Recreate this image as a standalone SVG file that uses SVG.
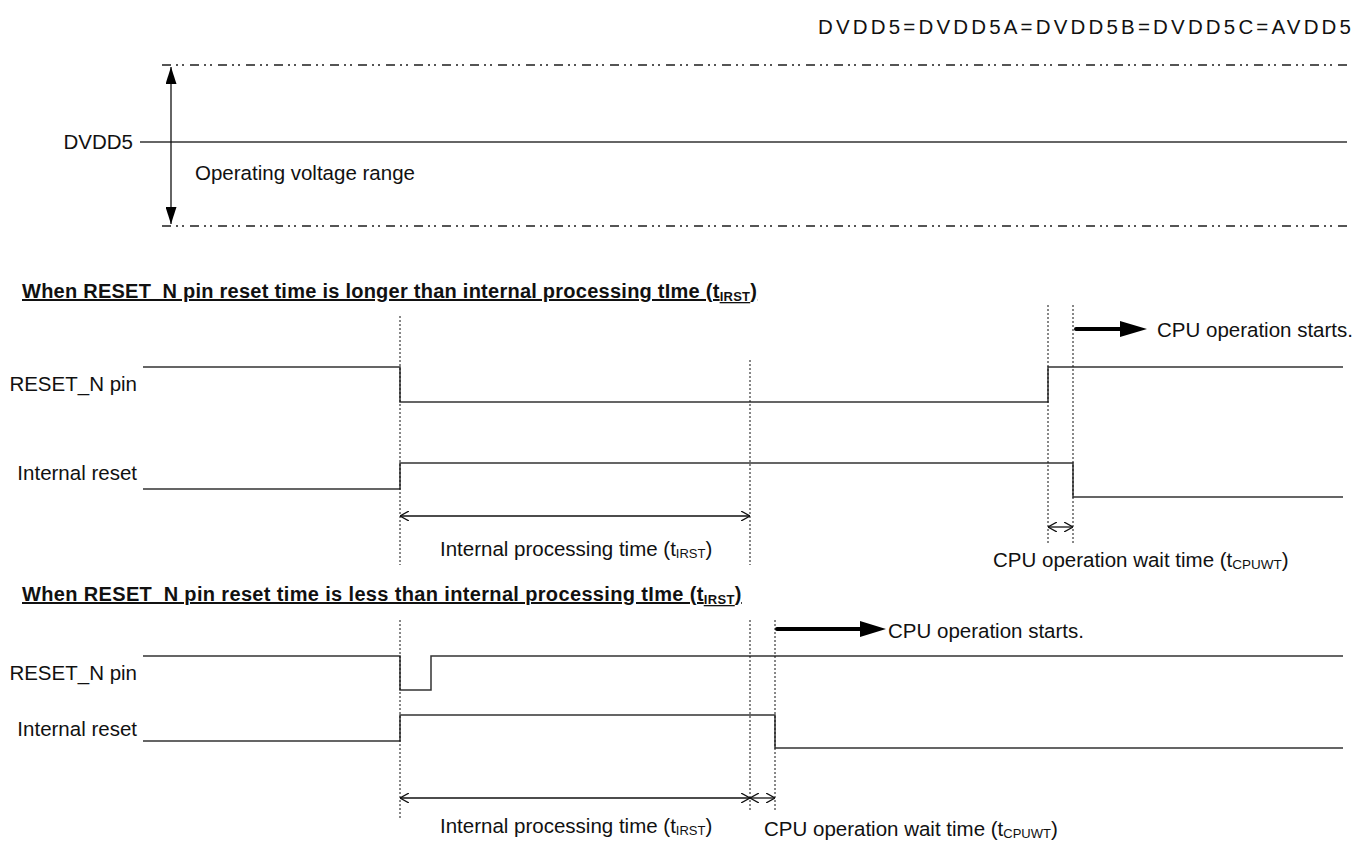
<svg xmlns="http://www.w3.org/2000/svg" width="1370" height="844" viewBox="0 0 1370 844">
<defs>
<style>
text{font-family:"Liberation Sans",Arial,sans-serif;font-size:20.5px;fill:#111}
.hdr{font-weight:bold;font-size:20px;letter-spacing:0.25px;text-decoration:underline}
.sig{fill:none;stroke:#333;stroke-width:1.5}
.dot{stroke:#111;stroke-width:1;stroke-dasharray:2 2;fill:none}
.dd{stroke:#555;stroke-width:2;stroke-dasharray:9 5 2 4 2 6;fill:none}
.dim{stroke:#111;stroke-width:1.3;fill:none}
.thick{stroke:#000;stroke-width:4;stroke-linecap:round}
</style>
<marker id="open" viewBox="0 0 9 10" refX="9" refY="5" markerWidth="9" markerHeight="10" markerUnits="userSpaceOnUse" orient="auto-start-reverse">
<path d="M0,0 L9,5 L0,10" fill="none" stroke="#111" stroke-width="1.3"/>
</marker>
<marker id="filled" viewBox="0 0 17 11" refX="17" refY="5.5" markerWidth="17" markerHeight="11" markerUnits="userSpaceOnUse" orient="auto-start-reverse">
<path d="M0,0 L17,5.5 L0,11 z" fill="#000"/>
</marker>
</defs>
<rect width="1370" height="844" fill="#fff"/>

<g id="title">
<text x="818" y="34" font-size="23" textLength="533" lengthAdjust="spacing">DVDD5=DVDD5A=DVDD5B=DVDD5C=AVDD5</text>
</g>

<g id="voltage-range">
<line class="dd" x1="162" y1="65" x2="1347" y2="65"/>
<line class="dd" x1="162" y1="226" x2="1347" y2="226"/>
<line class="sig" x1="140" y1="142" x2="1347" y2="142"/>
<text x="133" y="149" text-anchor="end">DVDD5</text>
<text x="195" y="180">Operating voltage range</text>
</g>

<g id="section1">
<text class="hdr" x="22" y="298">When RESET_N pin reset time is longer than internal processing tIme (t<tspan font-size="13" dy="3">IRST</tspan><tspan dy="-3">)</tspan></text>
<text x="137" y="391" text-anchor="end">RESET_N pin</text>
<text x="137" y="480" text-anchor="end">Internal reset</text>
<polyline id="s1-reset-pin" class="sig" points="143,367 400,367 400,402 1048,402 1048,367 1343,367"/>
<polyline id="s1-internal-reset" class="sig" points="143,489 400,489 400,463 1073,463 1073,497 1343,497"/>
<text x="440" y="556">Internal processing time (t<tspan font-size="13" dy="2">IRST</tspan><tspan dy="-2">)</tspan></text>
<text x="993" y="567">CPU operation wait time (t<tspan font-size="13.5" dy="2">CPUWT</tspan><tspan dy="-2">)</tspan></text>
<text x="1157" y="337">CPU operation starts.</text>
</g>

<g id="section2">
<text class="hdr" x="22" y="601" style="letter-spacing:0.35px">When RESET_N pin reset time is less than internal processing tIme (t<tspan font-size="13" dy="3">IRST</tspan><tspan dy="-3">)</tspan></text>
<text x="137" y="680" text-anchor="end">RESET_N pin</text>
<text x="137" y="736" text-anchor="end">Internal reset</text>
<polyline id="s2-reset-pin" class="sig" points="143,656 400,656 400,690 431,690 431,656 1343,656"/>
<polyline id="s2-internal-reset" class="sig" points="143,741 400,741 400,715 775,715 775,748 1343,748"/>
<text x="440" y="833">Internal processing time (t<tspan font-size="13" dy="2">IRST</tspan><tspan dy="-2">)</tspan></text>
<text x="764" y="836">CPU operation wait time (t<tspan font-size="13" dy="2">CPUWT</tspan><tspan dy="-2">)</tspan></text>
<text x="888" y="638">CPU operation starts.</text>
</g>

<g id="connectors">
<line class="dim" x1="171" y1="67" x2="171" y2="224" marker-start="url(#filled)" marker-end="url(#filled)"/>
<line class="dot" x1="400" y1="316" x2="400" y2="565"/>
<line class="dot" x1="750" y1="360" x2="750" y2="565"/>
<line class="dot" x1="1048" y1="305" x2="1048" y2="545"/>
<line class="dot" x1="1073" y1="305" x2="1073" y2="545"/>
<line class="dim" x1="400" y1="516" x2="750" y2="516" marker-start="url(#open)" marker-end="url(#open)"/>
<line class="dim" x1="1048" y1="527" x2="1073" y2="527" marker-start="url(#open)" marker-end="url(#open)"/>
<line class="thick" x1="1076" y1="329" x2="1122" y2="329"/>
<polygon points="1120,321 1147,329 1120,337" fill="#000"/>
<line class="dot" x1="400" y1="620" x2="400" y2="818"/>
<line class="dot" x1="750" y1="620" x2="750" y2="810"/>
<line class="dot" x1="775" y1="620" x2="775" y2="812"/>
<line class="dim" x1="400" y1="798" x2="750" y2="798" marker-start="url(#open)" marker-end="url(#open)"/>
<line class="dim" x1="750" y1="798" x2="775" y2="798" marker-start="url(#open)" marker-end="url(#open)"/>
<line class="thick" x1="777" y1="629" x2="862" y2="629"/>
<polygon points="860,621 886,629 860,637" fill="#000"/>
</g>
</svg>
